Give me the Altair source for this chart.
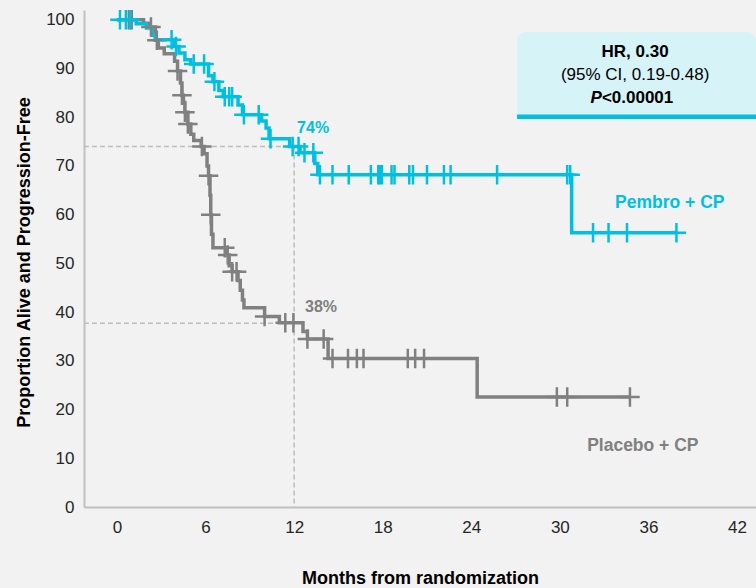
import altair as alt
import pandas as pd

# ---------------- data ----------------
pembro_t = [0, 1.3, 2.0, 2.4, 2.6, 3.9, 4.2, 4.6, 5.0, 6.2, 6.5, 6.9, 7.2, 8.2, 8.5,
            9.8, 10.1, 10.3, 11.7, 12.4, 13.4, 13.6, 30.8, 37.9]
pembro_s = [100, 99.2, 98.3, 96.8, 95.9, 94.5, 93.2, 91.8, 90.9, 88.5, 87.3, 85.5, 84.2, 82.5, 80.5,
            79.2, 77.8, 75.6, 74.0, 72.7, 70.5, 68.2, 56.3, 56.3]
pembro_cens = [0.2, 0.6, 0.9, 3.7, 4.0, 5.2, 5.9, 6.6, 7.3, 7.6, 7.8, 8.6, 9.6, 10.4, 11.9,
               12.3, 12.7, 13.3, 13.75, 14.6, 15.7, 17.2, 17.7, 17.8, 17.95, 18.6, 18.8,
               19.8, 20.05, 21.0, 22.15, 22.6, 25.75, 30.5, 30.7, 32.25, 33.3, 34.55, 37.9]

placebo_t = [0, 1.8, 2.2, 2.6, 2.8, 3.2, 3.9, 4.1, 4.3, 4.4, 4.5, 4.6, 4.8, 5.0, 5.2, 5.7,
             5.9, 6.1, 6.2, 6.3, 6.35, 6.4, 6.5, 7.4, 7.6, 7.8, 8.2, 8.35, 8.5, 8.6, 10.0,
             11.0, 12.6, 12.9, 14.3, 24.4, 34.75]
placebo_s = [100, 99.3, 98.5, 95.8, 94.2, 93.0, 91.5, 89.5, 87.0, 84.5, 83.0, 81.0, 78.6, 76.5,
             75.2, 74.0, 72.5, 70.0, 68.0, 64.0, 60.0, 56.0, 53.2, 51.7, 49.5, 48.3, 46.5, 44.5,
             42.5, 40.9, 39.1, 37.8, 36.0, 34.5, 30.5, 22.6, 22.6]
placebo_cens = [0.8, 1.0, 2.3, 2.7, 4.1, 4.4, 4.6, 4.8, 5.75, 6.2, 6.35, 7.3, 7.5, 7.8, 8.1,
                10.0, 11.4, 11.95, 12.9, 14.0, 14.6, 15.65, 16.25, 16.7, 19.7, 20.2, 20.8,
                29.8, 30.5, 34.75]

arms = ["Placebo + CP", "Pembro + CP"]
arm_colors = ["#808080", "#00bfdf"]

x_ticks = [0, 6, 12, 18, 24, 30, 36, 42]
y_ticks = [0, 10, 20, 30, 40, 50, 60, 70, 80, 90, 100]
x_domain = [-2.236, 43.29]
y_domain = [0, 102]

ref_x = [x_domain[0], x_domain[0], 12]
ref_x2 = [12, 12, 12]
ref_y = [74, 37.7, 74]
ref_y2 = [74, 37.7, 0]

# ---------------- helpers ----------------
def surv_at(times, surv, t):
    v = surv[0]
    for ti, si in zip(times, surv):
        if ti <= t:
            v = si
    return v

curves = pd.concat([
    pd.DataFrame({"t": placebo_t, "s": placebo_s, "arm": arms[0]}),
    pd.DataFrame({"t": pembro_t, "s": pembro_s, "arm": arms[1]}),
])
cens = pd.concat([
    pd.DataFrame({"t": placebo_cens,
                  "s": [surv_at(placebo_t, placebo_s, c) for c in placebo_cens], "arm": arms[0]}),
    pd.DataFrame({"t": pembro_cens,
                  "s": [surv_at(pembro_t, pembro_s, c) for c in pembro_cens], "arm": arms[1]}),
])

FONT = "Liberation Sans"
xs = alt.Scale(domain=x_domain, nice=False, zero=False)
ys = alt.Scale(domain=y_domain, nice=False)
cs = alt.Scale(domain=arms, range=arm_colors)

refs = alt.Chart(pd.DataFrame({"x": ref_x, "x2": ref_x2, "y": ref_y, "y2": ref_y2})).mark_rule(
    color="#bdbdbd", strokeDash=[5, 3], strokeWidth=1.5
).encode(
    x=alt.X("x:Q", scale=xs,
            axis=alt.Axis(values=x_ticks, title="Months from randomization", grid=False,
                          ticks=False, domainColor="#c0c0c0", domainWidth=2,
                          labelFont=FONT, labelFontSize=17, labelColor="#262626",
                          labelPadding=12, titleFont=FONT, titleFontSize=18,
                          titleFontWeight="bold", titleColor="#000000",
                          titleBaseline="alphabetic", titleY=76)),
    x2="x2:Q",
    y=alt.Y("y:Q", scale=ys,
            axis=alt.Axis(values=y_ticks, title="Proportion Alive and Progression-Free",
                          grid=False, ticks=False, domainColor="#c0c0c0", domainWidth=2,
                          labelFont=FONT, labelFontSize=17, labelColor="#262626",
                          labelPadding=10, titleFont=FONT, titleFontSize=18,
                          titleFontWeight="bold", titleColor="#000000",
                          titleBaseline="alphabetic", titleX=-55, titleY=252)),
    y2="y2:Q",
)

box = alt.Chart(pd.DataFrame({"x": [27.1], "x2": [43.29], "y": [80.1], "y2": [97.5]})).mark_rect(
    color="#d6f3f8", cornerRadiusTopLeft=9, cornerRadiusTopRight=9
).encode(x=alt.X("x:Q", scale=xs), x2="x2:Q", y=alt.Y("y:Q", scale=ys), y2="y2:Q")

box_rule = alt.Chart(pd.DataFrame({"x": [27.1], "x2": [43.29], "y": [80.1]})).mark_rule(
    color="#00bfdf", strokeWidth=4.5
).encode(x=alt.X("x:Q", scale=xs), x2="x2:Q", y=alt.Y("y:Q", scale=ys))

lines = alt.Chart(curves).mark_line(interpolate="step-after", strokeWidth=3.5).encode(
    x=alt.X("t:Q", scale=xs), y=alt.Y("s:Q", scale=ys),
    color=alt.Color("arm:N", scale=cs, legend=None),
    order=alt.Order("t:Q"),
    detail="arm:N",
)

marks = alt.Chart(cens).mark_point(
    shape="M-1,0L1,0M0,-1L0,1", filled=False, size=380, strokeWidth=2.5, opacity=1
).encode(
    x=alt.X("t:Q", scale=xs), y=alt.Y("s:Q", scale=ys),
    color=alt.Color("arm:N", scale=cs, legend=None),
)

def txt(x, y, text, color, size=16, weight="bold", align="left", style="normal"):
    return alt.Chart(pd.DataFrame({"x": [x], "y": [y], "t": [text]})).mark_text(
        font=FONT, fontSize=size, fontWeight=weight, color=color, align=align,
        baseline="middle", fontStyle=style
    ).encode(x=alt.X("x:Q", scale=xs), y=alt.Y("y:Q", scale=ys), text="t:N")

texts = [
    txt(12.2, 77.8, "74%", "#00bfdf"),
    txt(12.74, 41.0, "38%", "#808080"),
    txt(33.74, 62.4, "Pembro + CP", "#00bfdf", size=17.5),
    txt(31.85, 12.6, "Placebo + CP", "#808080", size=17.5),
    txt(35.1, 93.4, "HR, 0.30", "#000000", size=17, align="center"),
    txt(35.1, 88.65, "(95%  CI, 0.19-0.48)", "#000000", size=17, weight="normal", align="center"),
    txt(32.85, 83.9, "P", "#000000", size=17, align="right", style="italic"),
    txt(32.85, 83.9, "<0.00001", "#000000", size=17, align="left"),
]

chart = alt.layer(refs, box, box_rule, lines, marks, *texts).properties(
    width=672, height=497,
    padding={"left": 84, "top": 10, "right": 0, "bottom": 81},
    autosize=alt.AutoSizeParams(type="none"),
    background="#f1f2f1",
).configure_view(stroke=None)

chart.save("out.html", embed_options={"renderer": "svg", "actions": False})
